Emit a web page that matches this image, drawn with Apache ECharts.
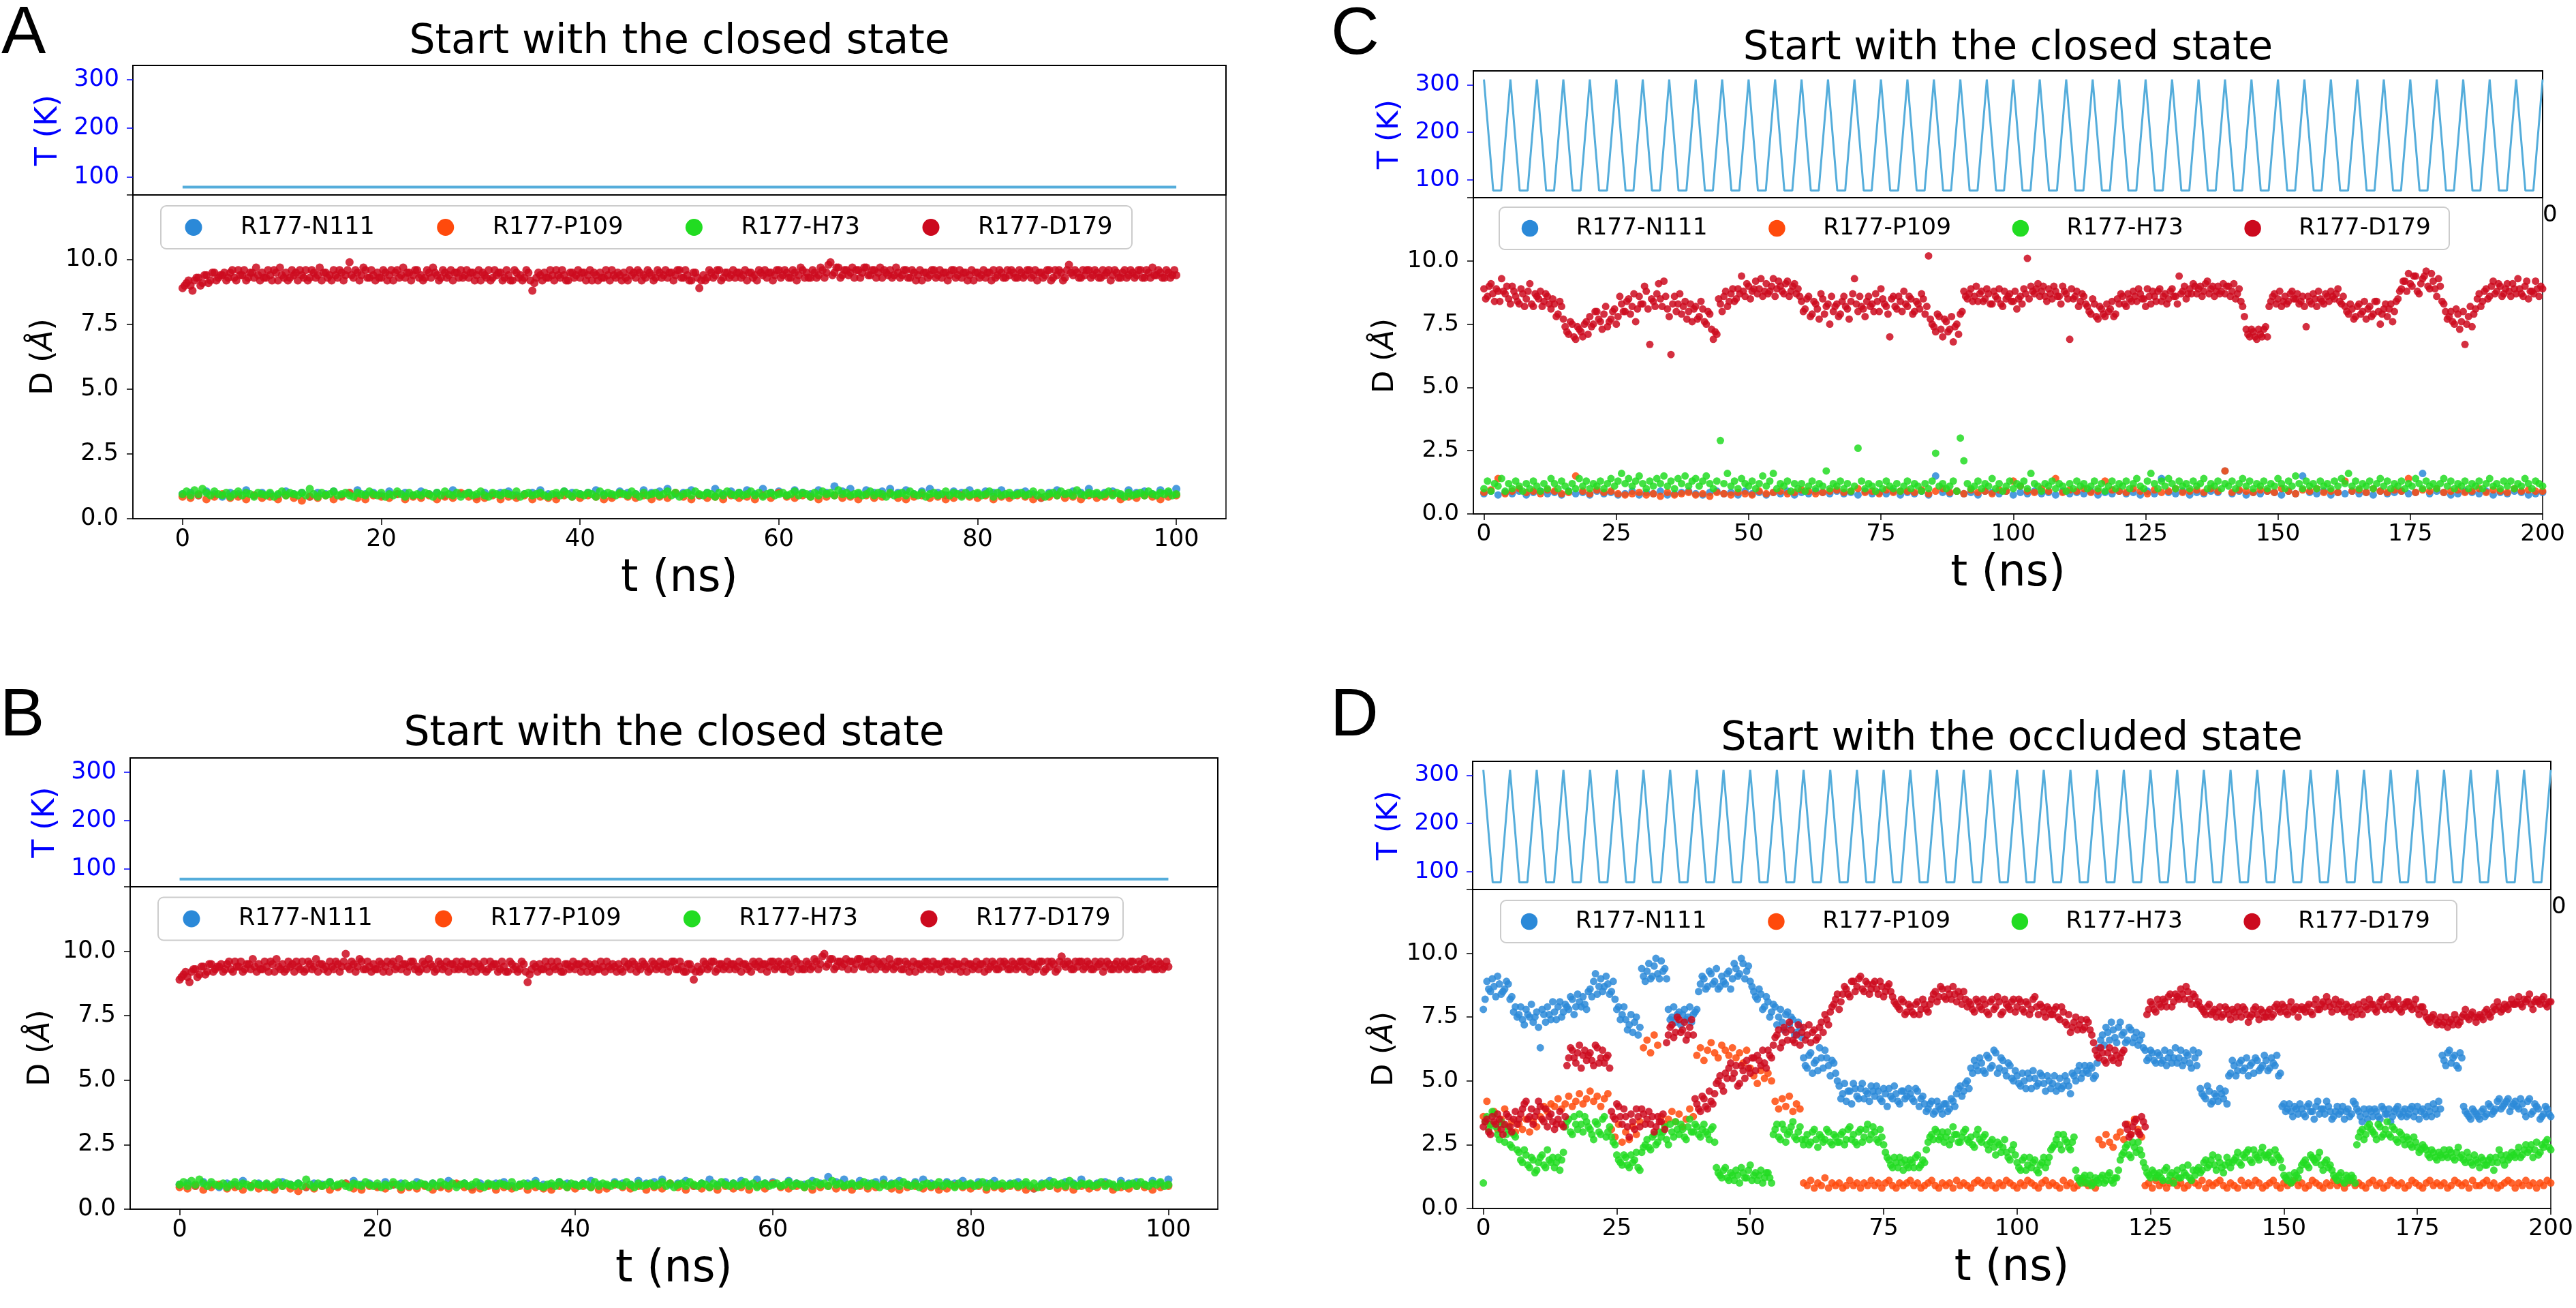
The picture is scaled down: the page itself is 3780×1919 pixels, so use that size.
<!DOCTYPE html>
<html><head><meta charset="utf-8">
<script src="https://cdn.jsdelivr.net/npm/echarts@6/dist/echarts.min.js"></script>
<style>html,body{margin:0;padding:0;background:#fff}#c{width:3780px;height:1919px}</style>
</head><body><div id="c"></div>
<script>
// ---------------- DATA ----------------
const seriesNames = ['R177-N111', 'R177-P109', 'R177-H73', 'R177-D179'];
const ticksXAB = [0, 20, 40, 60, 80, 100];
const ticksXCD = [0, 25, 50, 75, 100, 125, 150, 175, 200];
const ticksT = [100, 200, 300];
const ticksD = [0, 2.5, 5, 7.5, 10];
// sampling steps (ns) of the traces; "...B" arrays are the samples half a step later
const stepAB = 0.4, stepABsparse = 0.8, stepCD = 2 / 3, stepCsparse = 4 / 3;

// Temperature protocol
const tempFlatTime = [0, 100];
const tempFlatK = [79, 79];
const tempCycleTime = [0,1.75,3.25,5,6.75,8.25,10,11.75,13.25,15,16.75,18.25,20,21.75,23.25,25,26.75,28.25,30,31.75,33.25,35,36.75,38.25,40,41.75,43.25,45,46.75,48.25,50,51.75,53.25,55,56.75,58.25,60,61.75,63.25,65,66.75,68.25,70,71.75,73.25,75,76.75,78.25,80,81.75,83.25,85,86.75,88.25,90,91.75,93.25,95,96.75,98.25,100,101.75,103.25,105,106.75,108.25,110,111.75,113.25,115,116.75,118.25,120,121.75,123.25,125,126.75,128.25,130,131.75,133.25,135,136.75,138.25,140,141.75,143.25,145,146.75,148.25,150,151.75,153.25,155,156.75,158.25,160,161.75,163.25,165,166.75,168.25,170,171.75,173.25,175,176.75,178.25,180,181.75,183.25,185,186.75,188.25,190,191.75,193.25,195,196.75,198.25,200];
const tempCycleK = [311,78,78,311,78,78,311,78,78,311,78,78,311,78,78,311,78,78,311,78,78,311,78,78,311,78,78,311,78,78,311,78,78,311,78,78,311,78,78,311,78,78,311,78,78,311,78,78,311,78,78,311,78,78,311,78,78,311,78,78,311,78,78,311,78,78,311,78,78,311,78,78,311,78,78,311,78,78,311,78,78,311,78,78,311,78,78,311,78,78,311,78,78,311,78,78,311,78,78,311,78,78,311,78,78,311,78,78,311,78,78,311,78,78,311,78,78,311,78,78,311];

// Panels A and B (same trajectory shown)
const abD179 = [
8.9,9.1,9.0,9.2,9.3,9.1,9.4,9.2,9.5,9.3,
9.4,9.2,9.5,9.3,9.6,9.4,9.2,9.5,9.3,9.4,
9.5,9.3,9.4,9.6,9.2,9.4,9.5,9.3,9.4,9.2,
9.4,9.6,9.3,9.5,9.4,9.2,9.5,9.4,9.6,9.3,
9.5,9.4,9.9,9.3,9.5,9.4,9.6,9.3,9.4,9.5,
9.3,9.5,9.4,9.2,9.6,9.4,9.3,9.5,9.4,9.6,
9.4,9.3,9.5,9.7,9.4,9.3,9.5,9.4,9.2,9.5,
9.6,9.4,9.3,9.5,9.4,9.2,9.4,9.6,9.3,9.4,
9.5,9.3,9.4,9.2,9.5,9.4,9.3,9.5,8.8,9.3,
9.4,9.5,9.3,9.4,9.6,9.3,9.4,9.2,9.5,9.4,
9.3,9.5,9.4,9.2,9.4,9.5,9.3,9.4,9.6,9.3,
9.4,9.5,9.2,9.4,9.3,9.5,9.4,9.6,9.4,9.3,
9.5,9.4,9.3,9.5,9.4,9.6,9.3,9.4,9.2,9.5,
8.9,9.4,9.3,9.5,9.4,9.6,9.3,9.5,9.4,9.3,
9.5,9.4,9.2,9.5,9.4,9.6,9.4,9.3,9.5,9.4,
9.6,9.4,9.5,9.3,9.5,9.4,9.6,9.5,9.3,9.5,
9.4,9.6,9.5,9.9,9.5,9.7,9.4,9.6,9.5,9.3,
9.6,9.5,9.7,9.4,9.6,9.5,9.3,9.5,9.6,9.4,
9.5,9.4,9.6,9.3,9.5,9.4,9.2,9.5,9.4,9.6,
9.4,9.3,9.5,9.4,9.6,9.4,9.3,9.5,9.4,9.2,
9.5,9.4,9.3,9.5,9.6,9.4,9.5,9.3,9.4,9.5,
9.3,9.5,9.4,9.6,9.4,9.2,9.5,9.4,9.6,9.3,
9.4,9.5,9.3,9.8,9.4,9.5,9.3,9.4,9.6,9.4,
9.5,9.3,9.4,9.6,9.4,9.5,9.3,9.6,9.4,9.5,
9.4,9.6,9.3,9.5,9.7,9.4,9.5,9.3,9.5,9.4,
9.4];
const abD179B = [
9.0,9.2,8.8,9.3,9.0,9.4,9.1,9.5,9.2,9.4,
9.5,9.3,9.6,9.2,9.4,9.6,9.3,9.5,9.7,9.2,
9.3,9.6,9.2,9.5,9.7,9.3,9.2,9.6,9.5,9.6,
9.3,9.2,9.6,9.3,9.7,9.5,9.3,9.2,9.4,9.6,
9.2,9.6,9.4,9.6,9.2,9.7,9.3,9.6,9.2,9.3,
9.6,9.2,9.6,9.5,9.3,9.7,9.5,9.2,9.6,9.3,
9.2,9.6,9.3,9.5,9.2,9.6,9.3,9.6,9.5,9.3,
9.3,9.6,9.5,9.2,9.6,9.5,9.3,9.2,9.6,9.5,
9.2,9.6,9.2,9.6,9.3,9.2,9.6,9.2,9.1,9.5,
9.2,9.3,9.6,9.2,9.4,9.6,9.2,9.5,9.3,9.6,
9.5,9.2,9.6,9.5,9.2,9.3,9.6,9.2,9.4,9.5,
9.2,9.3,9.6,9.5,9.6,9.2,9.3,9.5,9.2,9.6,
9.3,9.6,9.5,9.2,9.6,9.3,9.6,9.2,9.5,9.3,
9.2,9.2,9.6,9.3,9.6,9.2,9.5,9.3,9.6,9.5,
9.3,9.6,9.5,9.3,9.2,9.5,9.6,9.5,9.2,9.6,
9.3,9.6,9.3,9.6,9.2,9.7,9.3,9.3,9.6,9.3,
9.7,9.3,9.8,9.4,9.7,9.3,9.6,9.4,9.7,9.6,
9.3,9.7,9.4,9.6,9.3,9.7,9.6,9.4,9.3,9.7,
9.3,9.6,9.3,9.6,9.2,9.6,9.5,9.3,9.6,9.3,
9.6,9.5,9.2,9.6,9.3,9.6,9.5,9.2,9.6,9.5,
9.3,9.6,9.5,9.2,9.3,9.6,9.3,9.6,9.6,9.3,
9.6,9.3,9.6,9.3,9.6,9.5,9.3,9.6,9.2,9.6,
9.6,9.2,9.6,9.5,9.6,9.3,9.6,9.6,9.3,9.6,
9.3,9.6,9.5,9.2,9.6,9.3,9.5,9.3,9.6,9.3,
9.6,9.3,9.6,9.3,9.4,9.6,9.3,9.6,9.3,9.6];
const abH73 = [
0.95,1.05,0.9,1.1,0.95,1.15,1.0,0.9,1.05,0.95,
0.9,1.0,0.85,0.95,1.05,0.9,1.0,0.95,0.85,1.0,
0.95,0.9,1.0,0.85,0.95,1.05,0.9,1.0,0.95,0.9,
1.0,0.9,1.15,0.95,0.85,1.0,0.9,0.95,1.05,0.9,
0.95,1.0,0.9,0.85,1.0,0.95,0.9,1.05,0.95,0.9,
1.0,0.85,0.95,0.9,1.05,0.95,0.85,1.0,0.9,0.95,
0.9,1.0,0.95,0.85,1.0,0.9,1.05,0.95,0.9,1.0,
0.85,0.95,1.0,0.9,0.95,1.05,0.9,0.85,1.0,0.95,
0.9,1.0,0.95,0.9,1.05,0.85,0.95,1.0,0.9,0.95,
1.0,0.9,0.85,0.95,1.0,0.9,1.05,0.95,0.85,1.0,
0.95,0.9,1.0,0.95,0.85,1.05,0.9,1.0,0.95,0.9,
1.0,0.95,0.9,1.05,0.95,0.85,1.0,0.9,0.95,1.0,
0.9,0.95,1.05,0.9,1.0,0.85,0.95,1.0,0.9,1.05,
0.95,0.9,1.0,0.95,0.85,1.0,0.9,1.05,0.95,0.9,
1.0,0.9,0.95,1.05,0.9,1.0,0.85,0.95,1.0,0.9,
0.95,1.0,0.9,0.95,1.05,0.9,1.0,0.95,0.85,1.0,
0.9,1.05,0.95,1.0,0.9,1.1,0.95,1.0,0.9,0.95,
1.0,0.9,0.95,1.05,0.9,1.0,0.95,0.85,1.0,0.9,
0.95,1.0,0.9,1.05,0.95,0.9,1.0,0.85,0.95,1.0,
0.9,0.95,1.05,0.9,1.0,0.95,0.85,1.0,0.9,0.95,
1.0,0.9,0.95,1.05,0.85,1.0,0.9,0.95,1.0,0.9,
0.95,1.0,0.9,0.95,1.05,0.9,1.0,0.85,0.95,1.0,
0.9,1.05,0.95,1.0,0.9,1.1,0.95,0.9,1.0,0.95,
1.0,0.9,0.95,1.05,0.9,1.0,0.95,0.85,1.0,0.9,
0.95,1.0,0.9,1.05,0.95,0.9,1.0,0.95,1.05,0.9,
0.95];
const abN111 = [
0.95,1.0,0.9,1.05,0.95,0.85,1.0,0.95,1.1,0.9,
1.0,0.95,0.9,1.05,0.95,1.0,0.85,1.0,0.95,1.05,
0.9,1.0,1.1,0.95,1.0,0.9,1.05,0.95,1.0,0.9,
1.05,0.95,1.0,0.9,1.1,0.95,1.0,0.85,1.0,0.95,
1.0,1.05,0.9,0.95,1.0,1.1,0.95,0.9,1.05,1.0,
0.95,1.0,1.1,0.95,0.9,1.05,1.0,0.95,1.1,1.0,
1.05,1.15,0.95,1.0,1.1,0.9,1.0,1.15,0.95,1.05,
1.0,1.1,0.95,1.15,1.0,1.05,0.9,1.1,1.0,0.95,
1.1,1.0,1.25,1.05,1.15,0.95,1.1,1.0,1.05,1.15,
1.0,1.1,0.95,1.05,1.15,1.0,0.9,1.05,1.0,1.1,
0.95,1.05,1.0,1.1,0.9,1.0,1.05,0.95,0.8,1.0,
1.1,0.95,1.05,1.0,1.15,0.95,1.0,1.05,0.9,1.1,
1.0,1.05,0.95,1.1,1.0,1.15];
const abP109 = [
0.85,0.8,0.9,0.75,0.85,0.95,0.8,0.85,0.75,0.9,
0.8,0.85,0.75,0.9,0.8,0.7,0.85,0.8,0.9,0.75,
0.85,1.0,0.8,0.75,0.9,0.85,0.8,0.95,0.75,0.85,
0.8,0.9,0.75,0.85,0.8,1.0,0.85,0.75,0.8,0.9,
0.75,0.85,0.8,0.9,0.75,0.85,0.8,0.75,0.9,0.85,
0.8,0.9,0.85,0.75,0.8,0.95,0.85,0.8,0.9,0.75,
0.85,0.8,1.0,0.85,0.75,0.9,0.8,0.85,0.75,0.9,
0.8,0.85,0.75,0.9,0.8,1.0,0.85,0.8,0.9,0.85,
0.75,0.85,0.9,0.8,0.85,0.75,0.9,0.8,0.85,0.95,
0.8,0.75,0.85,0.9,0.8,0.85,0.75,0.8,0.9,0.85,
0.8,0.9,0.75,0.85,0.8,0.9,0.85,0.75,0.8,0.85,
0.9,0.8,0.85,0.75,0.9,0.8,0.85,0.95,0.75,0.85,
0.8,0.9,0.85,0.75,0.85,0.9];

// Panel C
const cD179 = [
8.9,8.6,9.1,8.4,8.8,9.3,8.7,8.5,9.0,8.6,
8.3,8.7,8.5,9.1,8.2,8.6,8.8,8.4,8.6,8.1,
8.3,7.9,8.2,7.4,7.1,7.5,6.9,7.3,7.0,7.6,
7.8,7.5,8.0,7.6,7.9,7.4,7.7,8.1,7.8,8.3,
8.0,8.5,8.2,7.6,8.6,8.3,8.8,6.7,8.4,8.7,
8.5,9.2,8.1,6.3,8.6,8.3,7.9,8.4,8.0,7.6,
8.2,7.8,8.1,7.5,7.9,6.9,7.1,8.3,8.6,8.2,
8.7,8.4,8.9,9.4,8.6,9.0,8.8,9.2,8.9,8.6,
9.1,8.8,9.3,8.9,9.0,8.7,9.2,8.8,9.1,8.9,
8.4,8.1,8.6,7.9,8.3,7.7,8.5,8.2,7.5,8.0,
8.3,7.9,8.6,8.1,8.4,9.3,8.0,8.2,7.8,8.6,
8.3,8.7,8.0,8.5,8.2,7.0,8.6,8.1,8.4,8.8,
8.2,8.5,8.0,8.3,8.7,7.9,10.2,7.5,7.2,7.8,
7.0,7.6,7.3,6.8,7.5,7.9,8.8,8.5,8.9,8.6,
8.4,8.8,8.5,8.7,8.3,8.6,8.9,8.2,8.5,8.7,
8.4,8.1,8.6,8.9,10.1,9.0,8.7,9.1,8.8,8.6,
8.9,8.5,8.8,8.6,9.0,8.7,6.9,8.5,8.8,8.4,
8.6,8.2,7.9,8.3,7.7,8.1,7.8,8.0,8.4,7.9,
8.3,8.6,8.2,8.5,8.8,8.4,8.7,8.5,8.9,8.3,
8.6,8.8,8.4,8.7,8.5,8.9,8.6,9.4,8.8,8.5,
8.9,9.1,8.7,9.0,8.8,9.2,8.9,8.6,9.0,8.8,
8.7,9.0,8.8,8.5,8.9,8.2,7.3,7.0,7.2,6.9,
7.1,7.3,7.0,8.4,8.7,8.5,8.2,8.6,8.4,8.8,
8.5,8.3,8.6,7.4,8.4,8.7,8.2,8.5,8.3,8.6,
8.8,8.5,8.9,8.3,8.2,7.9,8.1,7.8,8.3,8.0,
7.7,8.2,7.9,8.4,7.5,8.1,7.8,8.3,8.0,8.5,
8.9,9.2,9.5,9.0,9.4,8.7,9.3,9.6,8.9,9.2,
8.6,9.0,8.3,7.7,8.0,7.5,7.9,7.6,6.7,7.8,
7.4,8.1,8.7,8.4,8.9,8.6,9.2,8.8,9.0,8.7,
9.1,8.6,8.9,9.3,8.7,9.0,8.5,8.8,9.2,8.6,
8.9];
const cD179B = [
8.5,9.0,8.7,8.9,8.4,8.8,9.0,8.3,8.8,8.4,
8.9,8.2,8.8,8.3,8.7,8.5,8.2,8.7,8.3,8.5,
7.8,8.4,7.7,7.2,7.6,7.0,7.4,7.2,7.5,7.1,
7.4,8.0,7.7,7.3,8.2,7.6,8.0,7.5,8.6,8.0,
8.4,7.9,8.7,8.1,8.3,9.0,8.1,8.5,8.2,9.1,
8.2,8.6,7.8,8.3,8.0,8.7,8.2,7.7,8.3,8.1,
7.7,8.4,7.6,8.0,7.3,7.2,8.5,8.0,8.8,8.4,
8.9,8.5,8.7,8.8,9.1,8.5,8.9,8.7,9.3,8.8,
8.7,9.0,8.6,9.2,8.8,9.1,8.6,9.0,8.7,8.6,
8.0,8.5,7.8,8.4,8.1,8.7,7.9,8.3,8.6,8.2,
7.8,8.4,8.2,7.7,8.7,8.3,8.6,8.1,8.4,8.2,
8.0,8.4,8.9,8.3,7.9,8.5,8.2,8.6,8.0,8.3,
8.6,7.9,8.4,8.1,8.5,8.2,7.7,7.4,7.9,7.3,
7.7,7.2,7.8,7.4,7.1,8.0,8.6,8.7,8.4,9.0,
8.7,8.4,8.9,8.3,8.8,8.5,8.3,8.8,8.6,8.4,
8.8,8.5,8.3,8.7,8.5,8.8,8.9,8.6,9.0,8.4,
8.7,9.0,8.6,8.3,8.8,8.5,8.9,8.6,8.2,8.7,
8.3,8.0,8.5,7.8,8.2,7.9,8.3,8.1,7.8,8.5,
8.7,8.3,8.7,8.4,8.6,8.9,8.5,8.2,8.6,8.8,
8.4,8.9,8.6,8.3,8.8,8.6,8.3,8.7,9.0,8.7,
8.7,9.0,8.9,8.6,9.1,8.7,9.0,8.8,8.7,9.1,
9.0,8.6,9.1,8.7,8.4,7.8,7.1,7.3,7.0,7.3,
7.0,7.4,8.2,8.6,8.3,8.8,8.4,8.3,8.7,8.5,
8.7,8.4,8.2,8.6,8.3,8.5,8.8,8.4,8.7,8.4,
8.6,8.7,8.4,8.6,8.0,8.3,7.7,8.2,7.9,8.4,
8.1,7.8,8.4,8.0,7.9,8.3,8.1,7.6,8.4,8.8,
9.2,8.8,9.1,9.4,8.8,9.1,9.4,9.0,9.5,8.9,
9.3,8.4,8.0,7.8,7.6,8.1,7.3,8.0,7.5,8.2,
7.9,8.5,8.2,8.8,8.5,9.0,8.7,9.1,8.6,8.9,
8.8,9.1,8.7,8.9,8.6,9.2,8.8,8.7,8.9,9.0];
const cH73 = [
1.0,1.3,0.9,1.2,1.1,1.4,0.9,1.2,1.0,1.3,
1.1,0.9,1.2,1.0,1.3,1.1,0.9,1.2,1.0,1.4,
1.2,1.0,1.3,1.1,0.9,1.2,1.0,1.4,1.1,1.3,
1.0,1.2,1.1,1.3,1.0,1.2,1.4,1.1,1.3,1.6,
1.2,1.4,1.1,1.3,1.5,1.2,1.0,1.3,1.1,1.4,
1.2,1.5,1.1,1.3,1.0,1.4,1.2,1.5,1.1,1.3,
1.4,1.1,1.3,1.5,1.2,1.0,1.3,2.9,1.2,1.6,
1.1,1.3,1.0,1.4,1.2,1.1,1.3,1.0,1.2,1.5,
1.1,1.3,1.6,1.0,1.2,1.1,1.3,0.9,1.2,1.0,
1.2,0.9,1.1,1.3,1.0,1.2,1.1,1.7,1.0,1.2,
1.1,1.3,1.0,1.2,0.9,1.1,2.6,1.3,1.0,1.2,
1.1,0.9,1.2,1.0,1.3,1.1,1.0,1.2,0.9,1.1,
1.3,1.0,1.2,1.1,0.9,1.2,1.0,1.3,2.4,1.1,
1.2,1.0,1.1,1.3,0.9,3.0,2.1,1.2,1.0,1.1,
1.3,1.0,1.2,1.1,1.4,1.0,1.2,0.9,1.1,1.3,
1.0,1.2,1.1,1.3,1.0,1.6,1.2,1.1,0.9,1.2,
1.1,1.3,1.0,1.2,1.1,0.9,1.2,1.0,1.3,1.1,
1.2,1.0,1.1,1.3,1.0,1.2,0.9,1.1,1.3,1.0,
1.2,1.1,1.3,1.0,1.2,1.4,1.1,1.0,1.3,1.6,
1.2,1.0,1.3,1.1,1.4,1.2,1.0,1.3,1.1,1.2,
1.0,1.3,1.1,1.2,1.4,1.0,1.2,1.1,1.3,1.0,
1.2,1.1,1.3,1.0,1.2,1.4,1.1,1.3,1.0,1.2,
1.1,1.3,1.0,1.2,1.1,1.4,1.2,1.0,1.3,1.1,
1.5,1.2,1.0,1.3,1.1,1.2,1.0,1.3,1.1,1.2,
1.0,1.3,1.1,1.4,1.2,1.6,1.1,1.3,1.0,1.2,
1.1,1.3,1.0,1.2,1.4,1.1,1.3,1.0,1.2,1.1,
1.3,1.0,1.2,1.1,1.4,1.2,1.0,1.3,1.1,1.2,
1.0,1.2,1.4,1.1,1.3,1.0,1.2,1.1,1.3,1.0,
1.2,1.1,1.3,1.0,1.2,1.4,1.1,1.2,1.0,1.3,
1.1,1.3,1.0,1.2,1.1,1.4,1.2,1.0,1.3,1.2,
1.1];
const cN111 = [
0.8,0.9,0.75,0.85,0.8,0.9,0.75,0.85,0.9,0.8,
0.85,0.75,0.9,0.8,0.85,0.75,0.9,0.8,0.85,0.75,
0.8,0.9,0.75,0.85,0.8,0.9,0.75,0.8,0.85,0.9,
0.8,0.75,0.85,0.9,0.8,0.85,0.75,0.9,0.8,0.85,
0.75,0.85,0.8,0.9,0.75,0.85,0.8,0.9,0.85,0.8,
0.9,0.8,0.85,0.75,0.9,0.8,0.85,0.8,0.9,0.75,
0.85,0.8,0.9,0.75,1.5,0.85,0.8,0.9,0.8,0.85,
0.75,0.9,0.85,0.8,0.9,0.75,0.85,0.8,0.9,0.8,
0.85,0.75,0.9,0.8,0.85,0.8,0.9,0.75,0.85,0.8,
0.9,0.8,0.85,0.75,0.9,0.8,1.4,0.85,0.8,0.9,
0.75,0.85,0.8,0.9,0.85,1.7,0.8,0.9,0.75,0.85,
0.8,0.9,0.85,0.75,0.9,0.8,1.5,0.85,0.8,0.9,
0.75,0.85,0.8,0.9,0.8,0.85,0.75,0.9,0.8,0.85,
0.9,0.8,0.85,1.6,0.8,0.9,0.85,0.75,0.8,0.9,
0.85,0.8,0.9,0.75,0.85,0.8,0.9,0.85,0.75,0.8,
0.85];
const cP109 = [
0.85,0.95,1.4,0.8,0.9,1.0,0.85,0.9,0.8,0.95,
0.9,0.8,0.85,1.5,0.9,0.8,0.95,0.85,0.9,0.8,
0.75,0.8,0.85,0.75,0.8,0.7,0.85,0.75,0.8,0.85,
0.75,0.8,0.7,0.85,0.8,0.75,0.85,0.8,0.75,0.9,
0.8,0.85,0.9,0.8,0.85,0.95,0.9,0.8,0.85,0.9,
0.95,0.85,0.9,1.0,0.85,0.9,0.8,0.95,0.85,0.9,
0.9,0.85,0.95,0.8,0.9,1.0,0.85,0.9,0.8,0.95,
0.85,0.9,0.8,0.95,0.9,1.3,1.1,0.9,0.85,1.0,
0.9,1.4,0.85,0.95,0.9,1.0,0.85,0.9,1.3,0.95,
0.9,0.85,1.0,0.9,0.8,0.95,0.85,0.9,1.0,0.85,
0.9,0.95,0.85,1.0,0.9,1.7,0.85,0.95,0.9,0.85,
0.95,0.9,0.85,1.0,0.9,0.8,0.95,0.9,1.0,0.85,
0.9,0.85,1.3,0.9,0.95,0.85,1.0,0.9,0.85,0.95,
0.9,1.4,0.85,0.95,0.9,1.0,0.85,0.9,0.95,0.85,
0.9,1.0,0.85,0.95,0.9,0.85,1.0,0.9,0.95,0.9,
0.9];

// Panel D
const dN111 = [
7.8,8.9,8.5,8.7,9.1,8.4,8.6,8.8,8.3,7.9,
7.6,7.4,7.8,7.5,7.3,7.7,6.3,7.6,7.9,7.4,
7.7,7.9,7.5,8.0,7.8,8.2,7.9,8.1,8.3,7.8,
8.6,8.9,8.4,9.0,8.7,8.8,8.5,8.2,7.9,7.6,
7.4,7.2,6.9,7.5,7.1,9.1,9.3,9.0,9.5,9.2,
9.7,9.4,7.8,7.5,7.3,7.7,7.6,7.4,7.9,7.6,
7.8,8.8,9.0,8.7,9.2,8.9,8.6,9.1,8.8,9.3,
9.0,9.4,9.2,9.6,9.3,8.9,8.5,8.2,8.4,7.9,
8.1,7.7,7.9,7.5,7.3,7.6,7.2,7.4,6.9,7.1,
5.9,5.5,6.1,5.7,5.4,5.9,6.2,5.6,5.8,5.3,
4.8,4.5,4.2,4.6,4.9,4.4,4.7,4.3,4.5,4.8,
4.4,4.6,4.2,4.5,4.7,4.3,4.5,4.1,4.6,4.4,
4.5,4.2,4.6,4.3,4.1,3.9,4.2,3.8,4.0,3.7,
4.1,3.9,4.2,4.5,4.8,4.6,5.0,5.5,5.8,5.4,
5.7,5.3,5.9,5.6,6.1,5.5,5.8,5.2,5.6,5.0,
5.2,4.8,5.0,5.3,4.7,5.1,4.9,5.2,4.6,5.0,
4.9,4.6,5.1,4.8,5.0,4.5,5.2,5.4,5.1,5.6,
5.3,5.5,5.2,6.3,6.8,7.1,6.6,7.0,6.5,7.3,
6.9,6.6,7.0,6.7,6.4,6.8,6.2,5.9,6.1,5.7,
6.0,5.8,5.6,6.1,5.9,5.7,6.2,5.8,6.0,5.5,
5.9,6.1,4.5,4.3,4.6,4.2,4.4,4.7,4.3,4.1,
5.3,5.6,5.4,5.8,5.5,5.2,5.7,5.9,5.4,5.6,
5.8,5.5,5.7,6.0,5.3,4.1,3.9,3.8,4.0,3.7,
3.9,3.6,4.1,3.8,4.0,3.7,3.9,4.2,3.8,3.6,
4.0,3.8,3.5,3.9,3.7,4.1,3.8,3.4,3.7,3.9,
3.6,3.8,3.5,3.9,3.7,3.4,3.8,4.0,3.6,3.9,
3.7,4.0,3.8,3.5,3.9,3.6,3.8,4.1,3.7,3.9,
5.8,6.1,5.7,6.0,5.5,5.9,3.8,3.6,3.9,3.7,
3.5,3.9,3.7,4.0,3.8,4.2,3.9,4.1,4.3,4.0,
4.2,3.9,4.1,3.6,4.3,3.8,4.0,3.5,3.7,3.9,
3.6];
const dN111B = [
8.2,8.6,9.0,8.3,8.8,8.5,8.9,8.2,7.7,7.5,
7.9,7.2,7.6,8.0,7.5,7.1,7.8,7.3,7.6,8.1,
7.4,8.1,7.7,7.9,8.3,7.6,8.4,7.9,8.0,8.5,
8.3,9.2,8.7,8.5,9.1,8.4,8.9,7.8,7.4,7.9,
7.0,7.6,7.3,6.8,9.4,8.9,9.6,9.1,9.8,9.0,
9.3,9.0,7.4,7.9,7.6,7.2,7.8,7.5,7.3,7.7,
8.5,9.1,8.6,9.3,8.8,9.4,8.7,8.9,9.2,8.6,
9.6,9.1,9.8,9.0,9.5,8.7,8.3,8.6,7.8,8.3,
7.5,8.0,7.2,7.8,7.0,7.7,7.5,6.8,7.3,6.7,
5.6,6.0,5.3,5.8,6.3,5.5,5.9,5.2,5.7,5.0,
4.3,4.9,4.6,4.1,4.7,4.3,4.9,4.6,4.2,4.6,
4.8,4.3,4.7,4.0,4.4,4.8,4.2,4.6,4.3,4.7,
4.3,4.7,4.0,4.4,3.8,4.1,3.7,4.2,3.9,4.1,
3.8,4.3,4.0,4.7,4.4,4.9,4.7,5.3,5.6,5.9,
5.4,6.0,5.5,6.2,5.3,5.9,5.4,5.7,5.1,5.4,
4.9,5.3,4.7,5.1,5.4,4.8,5.3,4.9,5.2,4.7,
5.2,4.8,4.7,5.2,4.8,5.3,5.0,5.6,5.3,5.4,
5.6,5.1,5.7,6.6,6.4,6.9,7.3,6.7,7.1,6.8,
6.5,7.1,6.5,6.9,6.6,6.3,5.8,6.2,5.8,6.1,
5.7,6.2,5.9,5.7,6.3,5.9,5.6,6.1,5.7,6.2,
5.6,4.7,4.4,4.8,4.1,4.5,4.2,4.5,4.6,5.2,
5.8,5.2,5.7,5.4,5.9,5.6,5.3,5.8,5.5,6.0,
5.4,5.9,5.6,5.2,4.0,3.8,4.1,3.6,3.9,4.1,
3.7,4.0,3.8,3.5,4.2,3.9,3.7,4.0,3.5,3.8,
3.7,4.0,3.8,3.6,4.2,3.9,3.6,3.9,3.5,3.8,
3.9,3.6,4.0,3.7,3.9,3.6,3.9,3.7,3.8,3.6,
3.9,3.6,4.0,3.8,3.7,4.0,3.6,3.9,4.2,6.0,
5.6,6.2,5.9,5.6,6.1,4.0,3.7,3.5,3.8,3.6,
3.8,3.6,4.1,3.7,3.9,4.3,4.0,4.2,3.8,4.1,
4.0,4.3,3.8,4.2,3.7,4.1,3.9,3.6,4.0,3.7];
const dP109 = [
3.6,4.2,3.3,3.8,3.1,3.5,3.9,3.2,3.4,3.0,
3.3,3.1,3.5,3.0,3.4,3.2,3.6,4.0,3.8,4.1,
4.0,4.3,3.9,4.1,4.4,4.0,4.2,4.5,4.1,4.3,
4.6,4.2,4.4,4.0,4.3,4.5,3.1,2.8,3.3,2.6,
3.0,2.7,3.2,2.9,3.4,6.3,6.6,6.1,6.8,6.4,
3.6,3.3,3.5,3.8,3.4,3.7,3.2,3.5,3.9,3.6,
6.0,6.3,5.8,6.2,6.5,6.1,5.9,6.4,6.2,6.0,
6.3,5.9,6.1,5.7,6.2,5.5,5.2,4.9,5.4,5.1,
5.3,5.0,4.2,3.9,4.3,4.0,4.4,3.8,4.1,3.9,
1.0,0.9,1.1,0.8,1.0,0.9,1.2,0.8,1.0,0.9,
1.0,0.8,0.9,1.1,0.9,1.0,0.8,1.0,0.9,1.1,
0.9,1.0,0.8,1.0,1.1,0.9,0.8,1.0,0.9,1.0,
1.1,0.9,1.0,0.8,0.9,1.0,1.1,0.9,0.8,1.0,
0.9,1.0,0.8,1.1,0.9,1.0,0.9,0.8,1.0,1.1,
1.0,0.9,1.1,0.9,0.8,1.0,0.9,1.1,1.0,0.9,
0.8,1.0,0.9,1.1,1.0,0.9,0.8,1.0,1.1,0.9,
1.0,0.9,0.8,1.1,0.9,1.0,0.8,0.9,1.1,1.0,
0.9,1.0,0.8,2.7,2.5,2.9,2.6,2.4,2.8,3.0,
2.7,3.3,2.9,3.5,3.1,2.8,0.9,1.0,0.8,1.1,
0.9,1.0,0.8,1.0,1.1,0.9,1.0,0.8,0.9,1.1,
1.0,0.9,1.1,0.8,1.0,0.9,1.0,1.1,0.9,0.8,
1.0,0.9,0.8,1.1,0.9,1.0,0.9,1.1,1.0,0.8,
0.9,1.0,1.1,0.9,0.8,1.0,0.9,1.0,1.1,0.9,
1.0,0.8,0.9,1.1,1.0,0.9,0.8,1.0,0.9,1.1,
0.9,1.0,0.8,1.0,1.1,0.9,1.0,0.9,0.8,1.0,
1.1,0.9,1.0,0.8,0.9,1.1,1.0,0.9,1.0,0.8,
0.9,1.1,1.0,0.9,0.8,1.0,1.1,0.9,1.0,0.9,
1.0,0.8,0.9,1.1,1.0,0.9,1.0,0.8,1.1,0.9,
0.9,1.0,1.1,0.9,1.0,0.8,0.9,1.0,1.1,1.0,
0.8,1.0,0.9,1.1,0.9,1.0,0.8,1.0,0.9,1.1,
1.0];
const dH73 = [
1.0,3.6,3.3,3.7,2.9,3.4,2.6,3.1,2.4,2.8,
2.2,1.8,2.1,1.6,1.9,1.5,2.0,1.7,2.3,1.8,
1.6,2.0,1.9,3.2,3.5,2.9,3.3,3.7,3.0,3.4,
3.1,2.7,3.3,2.9,3.6,3.0,2.8,2.5,1.9,1.7,
2.0,1.6,1.8,2.2,1.5,2.4,2.7,2.3,2.9,2.6,
2.8,3.2,2.5,3.0,3.4,2.9,3.1,2.7,3.5,3.0,
3.2,2.8,3.3,2.9,3.1,2.6,1.4,1.2,1.6,1.1,
1.3,1.5,1.0,1.4,1.2,1.7,1.3,1.1,1.5,1.2,
1.4,1.0,3.1,2.8,3.3,2.6,3.0,3.4,2.7,3.2,
2.5,2.9,2.6,3.1,2.4,2.8,2.7,3.0,2.5,2.8,
2.6,3.0,2.7,3.2,2.9,2.5,3.1,2.8,3.3,2.9,
3.0,2.6,2.8,2.2,1.9,1.6,1.8,2.0,1.5,1.7,
1.9,1.6,2.1,1.7,1.8,2.6,2.9,3.1,2.7,3.0,
2.8,2.5,3.2,2.9,2.6,3.0,2.7,2.8,2.4,3.1,
2.6,2.9,2.3,2.7,2.1,2.5,2.4,2.2,1.9,2.5,
1.8,1.5,2.0,1.7,1.6,1.9,1.4,1.8,1.6,2.0,
2.4,2.7,2.5,2.9,2.6,2.3,2.8,1.2,1.0,1.3,
1.1,0.9,1.2,1.0,1.3,1.1,1.4,1.0,1.2,1.9,
2.2,2.5,2.0,2.4,2.6,2.1,1.6,1.3,1.5,1.2,
1.4,1.1,1.6,1.3,1.0,1.5,1.2,1.4,1.7,1.1,
1.3,1.6,1.5,1.9,1.7,2.1,1.5,1.8,1.4,2.0,
1.6,1.9,2.2,1.7,2.0,2.3,1.8,2.1,1.9,2.4,
2.0,2.2,1.8,2.1,1.9,1.3,1.1,1.0,1.4,1.2,
1.7,1.9,1.6,2.0,1.8,2.2,1.5,1.9,1.7,1.3,
1.1,1.4,1.0,1.2,1.3,1.0,2.8,3.1,2.9,3.3,
3.0,2.7,3.2,2.9,3.4,2.8,3.1,2.6,2.9,2.5,
2.7,2.4,2.6,2.2,2.5,2.3,2.0,2.2,1.9,2.1,
2.3,2.0,2.2,1.9,2.4,2.1,1.8,2.0,1.7,1.9,
1.6,1.9,1.7,2.0,1.5,1.8,2.1,1.7,1.9,2.2,
2.0,2.4,2.1,2.5,2.3,2.0,2.6,2.2,2.4,2.7,
2.3];
const dH73B = [
3.4,3.1,3.8,3.2,2.7,3.3,2.9,2.5,2.9,2.3,
1.9,2.3,1.7,2.0,1.4,1.8,2.1,1.6,1.9,2.0,
1.8,1.5,2.2,3.4,3.0,3.6,3.1,3.3,3.6,3.2,
2.9,3.4,3.0,3.5,2.8,3.2,2.6,2.1,1.8,2.1,
1.7,2.1,1.9,1.6,2.2,2.5,2.4,2.8,2.5,3.0,
3.0,2.7,3.3,2.8,3.1,3.3,2.8,3.2,3.0,3.3,
2.9,3.1,3.0,2.7,3.2,1.6,1.3,1.5,1.2,1.4,
1.1,1.3,1.6,1.2,1.5,1.1,1.4,1.3,1.0,1.4,
1.2,2.9,3.3,2.7,3.1,2.9,3.2,2.8,3.0,2.7,
2.7,2.5,3.0,2.7,2.9,2.6,3.1,2.6,2.9,2.6,
2.9,2.5,3.1,2.7,2.6,3.0,2.6,3.1,2.7,3.2,
2.7,3.1,2.5,2.0,1.7,2.0,1.6,1.8,1.9,1.6,
1.8,2.0,1.6,1.9,2.3,2.8,2.7,3.0,2.8,2.6,
3.0,2.7,2.9,2.6,2.8,3.1,2.6,2.5,2.9,2.7,
2.8,2.5,2.6,2.4,2.6,2.2,2.7,2.0,2.3,2.1,
1.6,1.9,1.5,2.0,1.8,1.5,1.7,2.0,1.8,2.3,
2.5,2.9,2.3,2.7,2.4,2.6,1.5,1.1,1.2,1.0,
1.3,1.0,1.1,1.2,1.0,1.3,1.1,1.2,1.5,2.1,
2.4,2.1,2.6,2.2,2.3,1.8,1.4,1.2,1.4,1.3,
1.2,1.5,1.1,1.4,1.3,1.2,1.6,1.3,1.2,1.5,
1.5,1.4,1.8,1.6,1.9,1.7,2.0,1.6,1.7,1.8,
1.8,2.0,1.8,2.1,2.2,1.9,2.3,2.0,2.2,2.1,
2.1,1.9,2.3,2.0,1.6,1.2,1.3,1.1,1.3,1.5,
1.8,1.7,2.1,1.9,2.0,1.7,1.8,1.6,1.5,1.2,
1.3,1.1,1.3,1.1,1.2,2.5,3.0,2.7,3.2,3.1,
2.9,3.3,2.8,3.1,2.9,3.2,2.7,3.0,2.7,2.8,
2.5,2.8,2.4,2.3,2.4,2.1,2.3,2.0,2.2,2.0,
2.1,2.3,2.0,2.2,2.0,1.9,2.2,1.8,2.1,1.8,
2.0,1.7,1.9,1.8,2.0,2.3,1.9,2.1,2.0,2.1,
2.2,2.0,2.3,2.2,2.5,2.3,2.1,2.5,2.6,2.4];
const dD179 = [
3.2,3.5,2.9,3.4,3.7,3.1,3.3,3.6,3.0,3.8,
3.5,3.9,4.2,3.6,3.3,3.8,4.0,3.4,3.2,3.7,
3.1,3.5,3.3,3.6,5.9,6.2,5.7,6.4,6.0,5.8,
6.1,5.6,6.3,5.9,5.7,6.0,3.8,3.5,4.0,3.3,
3.6,2.8,3.4,3.9,3.2,3.7,3.5,3.3,3.0,3.6,
3.4,3.1,6.8,7.2,6.9,7.4,7.0,6.6,7.1,6.8,
4.1,3.8,4.3,3.9,4.2,4.5,5.0,4.8,5.3,5.5,
5.1,5.6,4.9,5.4,5.8,5.3,5.9,6.0,5.6,5.7,
6.2,5.9,6.7,7.0,6.5,6.9,7.3,6.6,6.8,6.4,
7.1,6.8,6.5,7.0,6.7,7.3,7.6,7.2,7.9,8.2,
7.8,8.4,8.6,8.3,8.9,8.7,9.1,8.5,8.8,8.6,
8.9,8.4,8.7,8.5,8.8,8.3,8.0,7.8,8.1,7.7,
7.9,7.6,8.1,7.8,8.0,7.7,8.2,8.5,8.3,8.6,
8.2,8.4,8.7,8.1,8.3,8.5,7.9,8.0,7.7,8.1,
7.8,8.0,7.6,8.2,7.9,8.1,7.7,8.0,7.8,8.2,
7.9,8.1,7.7,8.0,7.8,8.3,7.6,7.9,7.5,7.8,
7.6,7.9,7.4,7.7,7.2,6.9,7.3,7.0,7.4,7.1,
7.3,6.8,6.2,5.9,6.1,5.7,6.3,5.8,6.0,5.9,
6.2,3.1,2.9,3.4,3.0,3.6,3.2,7.8,8.0,7.7,
8.0,8.2,7.9,8.4,8.1,8.3,8.6,8.2,8.5,8.0,
8.3,8.1,7.8,7.6,8.0,7.7,7.5,7.9,7.6,7.8,
7.4,7.7,7.9,7.5,7.8,7.3,7.6,7.9,7.4,7.7,
7.5,7.8,7.6,8.0,7.7,7.9,7.6,8.1,7.8,7.5,
7.9,7.7,8.0,7.6,8.2,7.8,8.1,8.3,7.9,8.0,
7.8,8.1,7.7,7.9,7.5,7.8,8.0,7.6,7.9,8.2,
8.0,7.7,8.1,7.9,8.3,7.8,8.0,8.2,7.7,7.9,
8.1,7.8,8.2,7.6,7.9,7.5,7.3,7.6,7.2,7.5,
7.3,7.1,7.4,7.6,7.2,7.5,7.8,7.4,7.7,7.3,
7.6,7.4,7.8,7.5,7.9,8.1,7.7,8.0,7.8,8.2,
8.0,8.3,7.9,8.1,8.4,7.8,8.2,8.0,8.3,7.9,
8.1];
const dD179B = [
3.4,3.0,3.6,3.3,3.5,2.9,3.7,3.2,3.5,3.3,
3.7,4.1,3.5,3.9,3.6,4.2,3.5,3.9,3.6,3.4,
3.3,3.8,3.2,5.6,6.3,5.9,6.1,5.5,6.2,6.0,
5.8,6.4,5.7,6.2,5.9,5.5,3.6,4.1,3.6,3.9,
3.2,3.7,3.1,3.6,3.9,3.3,3.8,3.6,3.2,3.4,
3.7,6.5,7.1,6.7,7.5,6.9,7.3,6.8,7.4,4.3,
3.9,4.4,4.0,4.6,4.1,4.9,5.2,4.6,5.1,5.7,
5.3,4.8,5.6,5.1,5.5,5.9,5.4,5.8,6.2,5.5,
6.0,6.4,6.8,6.3,7.1,6.6,7.0,6.5,7.2,6.9,
6.6,7.2,6.9,6.6,7.1,6.9,7.4,7.7,8.0,8.4,
8.1,8.7,8.4,8.9,8.5,9.0,8.6,8.9,8.4,8.8,
8.6,8.9,8.3,8.7,8.5,8.1,7.9,8.2,7.6,8.0,
7.7,8.0,7.6,8.2,7.8,8.0,8.4,8.1,8.7,8.3,
8.6,8.2,8.4,8.5,8.0,8.2,8.1,7.8,8.2,7.9,
8.2,7.7,8.1,7.8,8.3,7.6,8.2,7.9,8.1,7.7,
8.2,7.8,8.1,7.6,8.2,7.9,8.0,7.7,7.9,7.6,
7.8,7.5,7.9,7.3,7.6,7.1,7.5,7.2,7.0,7.4,
7.0,6.5,6.0,6.3,5.8,6.1,5.9,6.2,5.7,6.1,
3.3,2.8,3.2,3.5,2.9,3.4,7.6,8.1,7.8,8.2,
7.9,8.1,8.3,7.9,8.4,8.2,8.4,8.7,8.2,8.4,
8.0,7.9,7.7,7.9,7.6,7.8,7.7,7.5,7.9,7.6,
7.8,7.5,7.7,7.9,7.6,7.5,7.8,7.6,7.8,7.5,
7.7,7.5,7.9,7.8,8.0,7.7,7.9,7.7,7.9,7.8,
7.8,7.9,7.7,8.0,7.8,8.0,7.9,8.1,7.7,8.2,
8.0,7.8,8.0,7.7,7.9,7.6,7.8,8.1,7.8,8.0,
7.8,7.9,8.2,7.8,8.0,8.1,7.9,7.8,8.0,8.1,
7.9,8.0,7.8,7.9,7.7,7.4,7.5,7.4,7.3,7.2,
7.5,7.3,7.2,7.4,7.3,7.6,7.5,7.6,7.5,7.5,
7.5,7.7,7.6,7.7,7.8,7.9,7.8,7.9,8.0,8.0,
8.1,8.0,8.2,8.2,8.0,8.1,8.1,8.2,8.0,8.1];

// ---------------- STYLE / LAYOUT ----------------
const FONT = 'DejaVu Sans';
const COLORS = ['#2b89d8', '#ff4a0c', '#22dc22', '#cc0a1e'];
const TEMP_COLOR = '#55addb';
const BLUE = '#0000ff';

function pairs(vals, step, off) { return vals.map((v, i) => [Math.round((off + i * step) * 1000) / 1000, v]); }
function trace(a, step, b) { return b ? pairs(a, step, 0).concat(pairs(b, step, step / 2)) : pairs(a, step, 0); }
function pairsXY(xs, ys) { return xs.map((x, i) => [x, ys[i]]); }

const panels = [
  { letter: 'A', title: 'Start with the closed state', x0: 195, x1: 1799, tTop: 96, sep: 286, bot: 761,
    xMin: -5, xMax: 105, xTicks: ticksXAB, s: 1, titleTop: 32, letterLeft: 2, letterTop: 2,
    legCx: 284, legCy: 333.5, box: [236, 302, 1661, 365], tempWidth: 4, dot: 12,
    temp: pairsXY(tempFlatTime, tempFlatK),
    sets: [trace(abN111, stepABsparse), trace(abP109, stepABsparse), trace(abH73, stepAB), trace(abD179, stepAB, abD179B)] },
  { letter: 'B', title: 'Start with the closed state', x0: 191, x1: 1787, tTop: 1112, sep: 1301, bot: 1774,
    xMin: -5, xMax: 105, xTicks: ticksXAB, s: 1, titleTop: 1047, letterLeft: 0, letterTop: 1003,
    legCx: 281, legCy: 1348, box: [232, 1316.5, 1648, 1379.5], tempWidth: 4, dot: 12,
    temp: pairsXY(tempFlatTime, tempFlatK),
    sets: [trace(abN111, stepABsparse), trace(abP109, stepABsparse), trace(abH73, stepAB), trace(abD179, stepAB, abD179B)] },
  { letter: 'C', title: 'Start with the closed state', x0: 2162, x1: 3731, tTop: 104, sep: 290, bot: 754,
    xMin: -2, xMax: 200, xTicks: ticksXCD, s: 0.98, titleTop: 42, letterLeft: 1953, letterTop: 3,
    legCx: 2245, legCy: 335, box: [2200, 304, 3594, 366], stray: [3731, 316], tempWidth: 3, dot: 11,
    temp: pairsXY(tempCycleTime, tempCycleK),
    sets: [trace(cN111, stepCsparse), trace(cP109, stepCsparse), trace(cH73, stepCD), trace(cD179, stepCD, cD179B)] },
  { letter: 'D', title: 'Start with the occluded state', x0: 2161, x1: 3743, tTop: 1117, sep: 1305, bot: 1773,
    xMin: -2, xMax: 200, xTicks: ticksXCD, s: 0.98, titleTop: 1055, letterLeft: 1952, letterTop: 1003,
    legCx: 2244, legCy: 1352, box: [2202, 1321, 3605, 1383], stray: [3744, 1331], tempWidth: 3, dot: 11,
    temp: pairsXY(tempCycleTime, tempCycleK),
    sets: [trace(dN111, stepCD, dN111B), trace(dP109, stepCD), trace(dH73, stepCD, dH73B), trace(dD179, stepCD, dD179B)] }
];

const grid = [], xAxis = [], yAxis = [], series = [], legend = [], title = [], graphicEls = [];

panels.forEach((p, i) => {
  const s = p.s;
  const gT = 2 * i, gD = 2 * i + 1;
  const w = p.x1 - p.x0;
  grid.push({ left: p.x0, top: p.tTop, width: w, height: p.sep - p.tTop, containLabel: false, outerBoundsMode: 'none',
    show: true, borderColor: '#000', borderWidth: 2, backgroundColor: '#fff' });
  grid.push({ left: p.x0, top: p.sep, width: w, height: p.bot - p.sep, containLabel: false, outerBoundsMode: 'none',
    show: true, borderColor: '#000', borderWidth: 1.5, backgroundColor: 'transparent' });

  xAxis.push({ gridIndex: gT, type: 'value', min: p.xMin, max: p.xMax, show: false });
  xAxis.push({ gridIndex: gD, type: 'value', min: p.xMin, max: p.xMax,
    axisLine: { show: true, onZero: false, lineStyle: { color: '#000', width: 1.5 } },
    axisTick: { show: true, length: 9, customValues: p.xTicks, lineStyle: { color: '#000', width: 1.5 } },
    axisLabel: { show: true, customValues: p.xTicks, fontSize: 35 * s, fontFamily: FONT, color: '#000', margin: 13 },
    splitLine: { show: false },
    name: 't (ns)', nameLocation: 'middle', nameGap: 57,
    nameTextStyle: { fontSize: 65 * s, fontFamily: FONT, color: '#000', lineHeight: 65 * s } });

  yAxis.push({ gridIndex: gT, type: 'value', min: 63, max: 329,
    axisLine: { show: false, onZero: false },
    axisTick: { show: true, length: 9, customValues: ticksT, lineStyle: { color: BLUE, width: 1.5 } },
    axisLabel: { show: true, customValues: ticksT, fontSize: 35 * s, fontFamily: FONT, color: BLUE, margin: 20 },
    splitLine: { show: false },
    name: 'T (K)', nameLocation: 'middle', nameGap: 101, nameRotate: 90,
    nameTextStyle: { fontSize: 44 * s, fontFamily: FONT, color: BLUE, lineHeight: 44 * s } });
  yAxis.push({ gridIndex: gD, type: 'value', min: 0, max: 12.5,
    axisLine: { show: true, onZero: false, lineStyle: { color: '#000', width: 1.5 } },
    axisTick: { show: true, length: 9, customValues: [0, 2.5, 5, 7.5, 10, 12.5], lineStyle: { color: '#000', width: 1.5 } },
    axisLabel: { show: true, customValues: ticksD, formatter: v => Number(v).toFixed(1), fontSize: 35 * s, fontFamily: FONT, color: '#000', margin: 21 },
    splitLine: { show: false },
    name: 'D ({i|Å})', nameLocation: 'middle', nameGap: 108, nameRotate: 90,
    nameTextStyle: { fontSize: 44 * s, fontFamily: FONT, color: '#000', lineHeight: 44 * s,
      rich: { i: { fontStyle: 'italic', fontSize: 44 * s, fontFamily: FONT, color: '#000', lineHeight: 44 * s } } } });

  series.push({ type: 'line', name: 'T', xAxisIndex: gT, yAxisIndex: gT, data: p.temp, showSymbol: false,
    symbol: 'none', silent: true, lineStyle: { color: TEMP_COLOR, width: p.tempWidth }, z: 2 });
  p.sets.forEach((data, k) => {
    series.push({ type: 'scatter', name: seriesNames[k], xAxisIndex: gD, yAxisIndex: gD,
      data: data, symbol: 'circle', symbolSize: p.dot, silent: true,
      itemStyle: { color: COLORS[k], opacity: 0.85 }, z: 2 });
  });

  const W = 128 * s;
  legend.push({ show: true, orient: 'horizontal', left: p.legCx - 12.5 * s, top: p.legCy - 20 * s, padding: 0,
    itemWidth: W, itemHeight: 25 * s, itemGap: 91.5 * s, icon: 'circle', selectedMode: false, z: 6,
    data: seriesNames.slice(), itemStyle: { opacity: 1 },
    textStyle: { fontSize: 35 * s, fontFamily: FONT, color: '#000', lineHeight: 40 * s } });

  graphicEls.push({ type: 'rect', z: 5, silent: true,
    shape: { x: p.box[0], y: p.box[1], width: p.box[2] - p.box[0], height: p.box[3] - p.box[1], r: 8 },
    style: { fill: 'rgba(255,255,255,0.8)', stroke: '#cccccc', lineWidth: 2 } });
  if (p.stray) {
    graphicEls.push({ type: 'text', z: 5, silent: true, x: p.stray[0], y: p.stray[1],
      style: { text: '0', fontSize: 34, fontFamily: FONT, fill: '#000', align: 'left', verticalAlign: 'middle' } });
  }

  title.push({ text: p.letter, left: p.letterLeft, top: p.letterTop, padding: 0,
    textStyle: { fontFamily: 'Liberation Sans', fontSize: 98, fontWeight: 'normal', color: '#000', lineHeight: 98 } });
  title.push({ text: p.title, left: (p.x0 + p.x1) / 2, top: p.titleTop, textAlign: 'center', padding: 0,
    textStyle: { fontFamily: FONT, fontSize: 60 * s, fontWeight: 'normal', color: '#000', lineHeight: 60 * s } });
});

const chart = echarts.init(document.getElementById('c'), null, { renderer: 'canvas', width: 3780, height: 1919 });
chart.setOption({
  animation: false,
  backgroundColor: '#fff',
  textStyle: { fontFamily: FONT },
  title, legend, grid, xAxis, yAxis, series,
  graphic: { elements: graphicEls }
});
</script>
</body></html>
